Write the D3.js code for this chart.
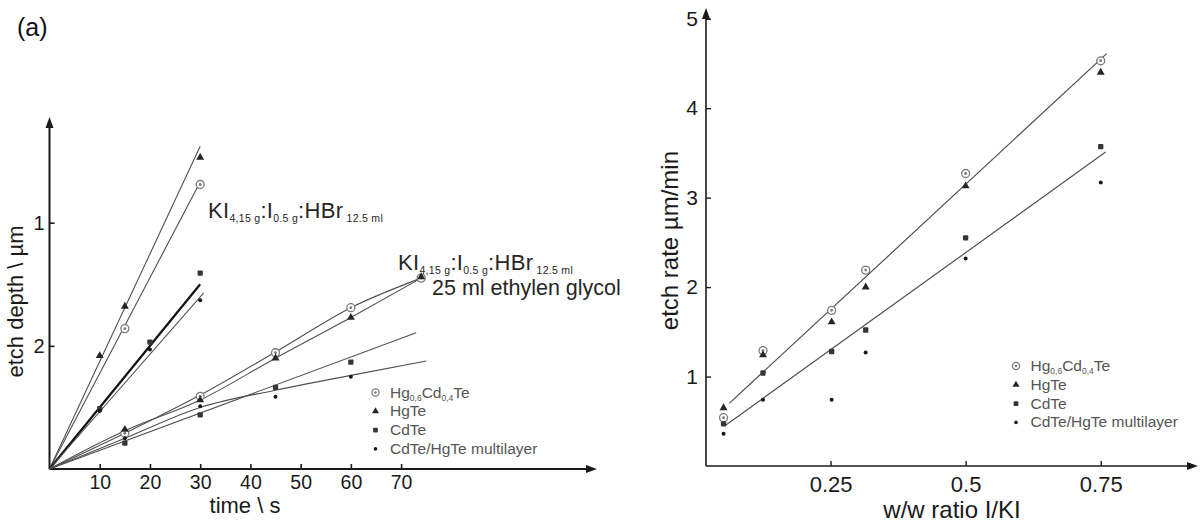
<!DOCTYPE html>
<html>
<head>
<meta charset="utf-8">
<script src="https://cdn.jsdelivr.net/npm/d3@7/dist/d3.min.js"></script>
<style>
  html, body { margin: 0; padding: 0; background: #fff; }
  svg { display: block; }
  text { font-family: "Liberation Sans", Arial, sans-serif; }
</style>
</head>
<body>
<script>
// ---------- left panel: etch depth vs time ----------
const timeTicks = [10, 20, 30, 40, 50, 60, 70];
const depthTickValues = [1, 2];
const depthTickLabels = ["2", "1"];

// KI:I:HBr (no glycol)
const fastTime      = [10, 15, 20, 30];
const fastHgCdTe    = [null, 1.14, null, 2.31];
const fastHgTe      = [0.92, 1.32, null, 2.53];
const fastCdTe      = [0.49, null, 1.03, 1.59];
const fastMulti     = [0.47, null, 0.97, 1.37];
// straight fits from the origin: end time / end depth
const fastFitNames  = ["HgCdTe", "HgTe", "CdTe", "Multi"];
const fastFitTime   = [30, 30, 30, 30.7];
const fastFitDepth  = [2.33, 2.62, 1.50, 1.43];

// KI:I:HBr + 25 ml ethylene glycol
const slowTime      = [15, 30, 45, 60, 74];
const slowHgCdTe    = [0.29, 0.59, 0.944, 1.31, 1.55];
const slowHgTe      = [0.32, 0.56, 0.90, 1.23, 1.56];
const slowCdTe      = [0.21, 0.44, 0.663, 0.868, null];
const slowMulti     = [0.25, 0.51, 0.587, 0.75, null];
// trend curves
const slowCurveTime     = [0, 15, 30, 45, 60, 74];
const slowCurveHgCdTe   = [0, 0.29, 0.60, 0.95, 1.31, 1.55];
const slowCurveHgTe     = [0, 0.31, 0.56, 0.90, 1.23, 1.55];
const slowLineCdTeTime  = [0, 73];
const slowLineCdTe      = [0, 1.106];
const slowCurveMultiTime = [0, 15, 30, 45, 60, 75];
const slowCurveMulti     = [0, 0.25, 0.50, 0.64, 0.76, 0.877];

// ---------- right panel: etch rate vs I/KI ratio ----------
const ratioTicks  = [0.25, 0.5, 0.75];
const ratioTickLabels = ["0.25", "0.5", "0.75"];
const rateTicks   = [1, 2, 3, 4, 5];
const ratio       = [0.052, 0.125, 0.252, 0.315, 0.5, 0.75];
const rateHgCdTe  = [0.54, 1.29, 1.74, 2.19, 3.27, 4.53];
const rateHgTe    = [0.65, 1.24, 1.61, 2.00, 3.13, 4.40];
const rateCdTe    = [0.47, 1.04, 1.28, 1.52, 2.55, 3.57];
const rateMulti   = [0.36, 0.74, 0.74, 1.27, 2.32, 3.17];
const fitUpperX   = [0.0625, 0.761];
const fitUpperY   = [0.70, 4.61];
const fitLowerX   = [0.0545, 0.759];
const fitLowerY   = [0.45, 3.51];

const legendKeys  = ["HgCdTe", "HgTe", "CdTe", "Multi"];

// ---------- drawing ----------
const W = 1200, H = 526;
const svg = d3.select("body").append("svg").attr("width", W).attr("height", H);

const INK = "#1a1a1a";
const LINE = "#505050";

function marker(g, type, x, y, scale = 1) {
  if (type === "HgCdTe") {
    g.append("circle").attr("cx", x).attr("cy", y).attr("r", 4.2 * scale)
      .attr("fill", "#fff").attr("stroke", "#7a7a7a").attr("stroke-width", 1.3);
    g.append("circle").attr("cx", x).attr("cy", y).attr("r", 1.5 * scale).attr("fill", "#7a7a7a");
  } else if (type === "HgTe") {
    g.append("path").attr("transform", `translate(${x},${y})`)
      .attr("d", d3.symbol(d3.symbolTriangle, 30 * scale * scale)()).attr("fill", "#262626");
  } else if (type === "CdTe") {
    const s = 5.6 * scale;
    g.append("rect").attr("x", x - s / 2).attr("y", y - s / 2).attr("width", s).attr("height", s)
      .attr("rx", 1).attr("fill", "#363636");
  } else {
    g.append("circle").attr("cx", x).attr("cy", y).attr("r", 2.1 * scale).attr("fill", "#161616");
  }
}

function richText(g, x, y, pieces, size, subSize, subShift, fill, anchor) {
  const t = g.append("text").attr("x", x).attr("y", y).attr("fill", fill)
    .attr("font-size", size).attr("text-anchor", anchor || "start");
  let shifted = 0;
  pieces.forEach(([s, sub]) => {
    const want = sub ? subShift : 0;
    t.append("tspan").attr("dy", want - shifted)
      .attr("font-size", sub ? subSize : size).text(s);
    shifted = want;
  });
  return t;
}

function arrowUp(g, x, y) {
  g.append("path").attr("d", `M${x},${y} L${x - 4},${y + 11} L${x + 4},${y + 11} Z`).attr("fill", INK);
}
function arrowRight(g, x, y) {
  g.append("path").attr("d", `M${x},${y} L${x - 11},${y - 4} L${x - 11},${y + 4} Z`).attr("fill", INK);
}

// ===== left panel =====
const L = svg.append("g");
const xT = d3.scaleLinear().domain([0, 109]).range([49.5, 597]);
const yD = d3.scaleLinear().domain([0, 2.85]).range([469, 118]);

// axes
const xAxisL = d3.axisBottom(xT).tickValues(timeTicks).tickSize(-5).tickPadding(6).tickFormat(d3.format("d"));
const gxL = L.append("g").attr("transform", `translate(0,${yD(0)})`).call(xAxisL);
gxL.select(".domain").remove();
gxL.selectAll(".tick line").attr("stroke", INK).attr("stroke-width", 1.6);
gxL.selectAll(".tick text").attr("font-size", 19.5).attr("fill", INK)
  .attr("font-family", "Liberation Sans, Arial, sans-serif");

const yAxisL = d3.axisLeft(yD).tickValues(depthTickValues).tickSize(-5).tickPadding(5)
  .tickFormat((d, i) => depthTickLabels[i]);
const gyL = L.append("g").attr("transform", `translate(${xT(0)},0)`).call(yAxisL);
gyL.select(".domain").remove();
gyL.selectAll(".tick line").attr("stroke", INK).attr("stroke-width", 1.6);
gyL.selectAll(".tick text").attr("font-size", 20).attr("fill", INK)
  .attr("font-family", "Liberation Sans, Arial, sans-serif");

L.append("line").attr("x1", xT(0)).attr("y1", yD(0)).attr("x2", xT(109) - 6).attr("y2", yD(0))
  .attr("stroke", INK).attr("stroke-width", 2);
L.append("line").attr("x1", xT(0)).attr("y1", yD(0)).attr("x2", xT(0)).attr("y2", yD(2.85) + 6)
  .attr("stroke", INK).attr("stroke-width", 2);
arrowUp(L, xT(0), yD(2.85) - 1);
arrowRight(L, xT(109), yD(0));

L.append("text").attr("transform", `translate(23,${yD(1.36)}) rotate(-90)`)
  .attr("text-anchor", "middle").attr("font-size", 22).attr("fill", INK).text("etch depth \\ µm");
L.append("text").attr("x", 245).attr("y", 513).attr("text-anchor", "middle")
  .attr("font-size", 22).attr("fill", INK).text("time \\ s");

// fit lines (fast etch)
const lineGen = d3.line().x(d => xT(d[0])).y(d => yD(d[1]));
fastFitNames.forEach((n, i) => {
  L.append("path").attr("d", lineGen([[0, 0], [fastFitTime[i], fastFitDepth[i]]]))
    .attr("fill", "none").attr("stroke", n === "CdTe" ? "#111" : LINE)
    .attr("stroke-width", n === "CdTe" ? 2.2 : 1.1);
});

// trend curves (glycol)
const curveGen = d3.line().x(d => xT(d[0])).y(d => yD(d[1])).curve(d3.curveMonotoneX);
[[slowCurveTime, slowCurveHgCdTe], [slowCurveTime, slowCurveHgTe],
 [slowLineCdTeTime, slowLineCdTe], [slowCurveMultiTime, slowCurveMulti]].forEach(([ts, vs]) => {
  L.append("path").attr("d", curveGen(ts.map((t, i) => [t, vs[i]])))
    .attr("fill", "none").attr("stroke", LINE).attr("stroke-width", 1.1);
});

// points
function plotSeries(g, xs, ys, type, xs_, ys_) {
  xs.forEach((x, i) => { if (ys[i] != null) marker(g, type, xs_(x), ys_(ys[i]), 0.95); });
}
plotSeries(L, fastTime, fastHgCdTe, "HgCdTe", xT, yD);
plotSeries(L, fastTime, fastHgTe, "HgTe", xT, yD);
plotSeries(L, fastTime, fastCdTe, "CdTe", xT, yD);
plotSeries(L, fastTime, fastMulti, "Multi", xT, yD);
plotSeries(L, slowTime, slowHgCdTe, "HgCdTe", xT, yD);
plotSeries(L, slowTime, slowHgTe, "HgTe", xT, yD);
plotSeries(L, slowTime, slowCdTe, "CdTe", xT, yD);
plotSeries(L, slowTime, slowMulti, "Multi", xT, yD);

// etchant labels
const etchant = [["KI", 0], ["4,15 g", 1], [":I", 0], ["0.5 g", 1], [":HBr", 0], ["  12.5 ml", 1]];
richText(L, 208, 218, etchant, 22, 10.5, 4, "#262626").attr("letter-spacing", 0.3);
richText(L, 398, 270, etchant, 22, 10.5, 4, "#262626").attr("letter-spacing", 0.3);
L.append("text").attr("x", 432).attr("y", 295).attr("font-size", 21.5).attr("fill", "#262626")
  .text("25 ml ethylen glycol");

// legends
const legendText = [
  [["Hg", 0], ["0,6", 1], ["Cd", 0], ["0,4", 1], ["Te", 0]],
  [["HgTe", 0]],
  [["CdTe", 0]],
  [["CdTe/HgTe multilayer", 0]]
];
function legend(g, x, y0) {
  legendKeys.forEach((k, i) => {
    const y = y0 + i * 18.8;
    marker(g, k, x, y, 0.85);
    richText(g, x + 14.5, y + 5, legendText[i], 15.5, 8.5, 3, "#555");
  });
}
legend(L, 375.5, 392.5);

// ===== right panel =====
const R = svg.append("g");
const xR = d3.scaleLinear().domain([0.0195, 0.93]).range([706, 1198]);
const yR = d3.scaleLinear().domain([0, 5.12]).range([466, 8]);

const xAxisR = d3.axisBottom(xR).tickValues(ratioTicks).tickSize(-5).tickPadding(10)
  .tickFormat((d, i) => ratioTickLabels[i]);
const gxR = R.append("g").attr("transform", `translate(0,${yR(0)})`).call(xAxisR);
gxR.select(".domain").remove();
gxR.selectAll(".tick line").attr("stroke", INK).attr("stroke-width", 1.4);
gxR.selectAll(".tick text").attr("font-size", 22).attr("fill", INK)
  .attr("font-family", "Liberation Sans, Arial, sans-serif");

const yAxisR = d3.axisLeft(yR).tickValues(rateTicks).tickSize(-5).tickPadding(8).tickFormat(d3.format("d"));
const gyR = R.append("g").attr("transform", `translate(${xR(0.0195)},0)`).call(yAxisR);
gyR.select(".domain").remove();
gyR.selectAll(".tick line").attr("stroke", INK).attr("stroke-width", 1.4);
gyR.selectAll(".tick text").attr("font-size", 21).attr("fill", INK)
  .attr("font-family", "Liberation Sans, Arial, sans-serif");

R.append("line").attr("x1", xR(0.0195)).attr("y1", yR(0)).attr("x2", xR(0.93) - 6).attr("y2", yR(0))
  .attr("stroke", INK).attr("stroke-width", 1.6);
R.append("line").attr("x1", xR(0.0195)).attr("y1", yR(0)).attr("x2", xR(0.0195)).attr("y2", yR(5.12) + 6)
  .attr("stroke", INK).attr("stroke-width", 1.6);
arrowUp(R, xR(0.0195), yR(5.12));
arrowRight(R, xR(0.93), yR(0));

R.append("text").attr("transform", `translate(678,${yR(2.52)}) rotate(-90)`)
  .attr("text-anchor", "middle").attr("font-size", 24).attr("fill", INK).text("etch rate µm/min");
R.append("text").attr("x", 952).attr("y", 518).attr("text-anchor", "middle")
  .attr("font-size", 24).attr("fill", INK).text("w/w ratio I/KI");

const lineR = d3.line().x(d => xR(d[0])).y(d => yR(d[1]));
[[fitUpperX, fitUpperY], [fitLowerX, fitLowerY]].forEach(([xs, ys]) => {
  R.append("path").attr("d", lineR(xs.map((x, i) => [x, ys[i]])))
    .attr("fill", "none").attr("stroke", LINE).attr("stroke-width", 1.2);
});

plotSeries(R, ratio, rateHgCdTe, "HgCdTe", xR, yR);
plotSeries(R, ratio, rateHgTe, "HgTe", xR, yR);
plotSeries(R, ratio, rateCdTe, "CdTe", xR, yR);
plotSeries(R, ratio, rateMulti, "Multi", xR, yR);

legend(R, 1016, 366);

// panel tag
svg.append("text").attr("x", 17).attr("y", 36).attr("font-size", 25)
  .attr("font-family", "'Open Sans', sans-serif").attr("fill", "#111").text("(a)");
</script>
</body>
</html>
